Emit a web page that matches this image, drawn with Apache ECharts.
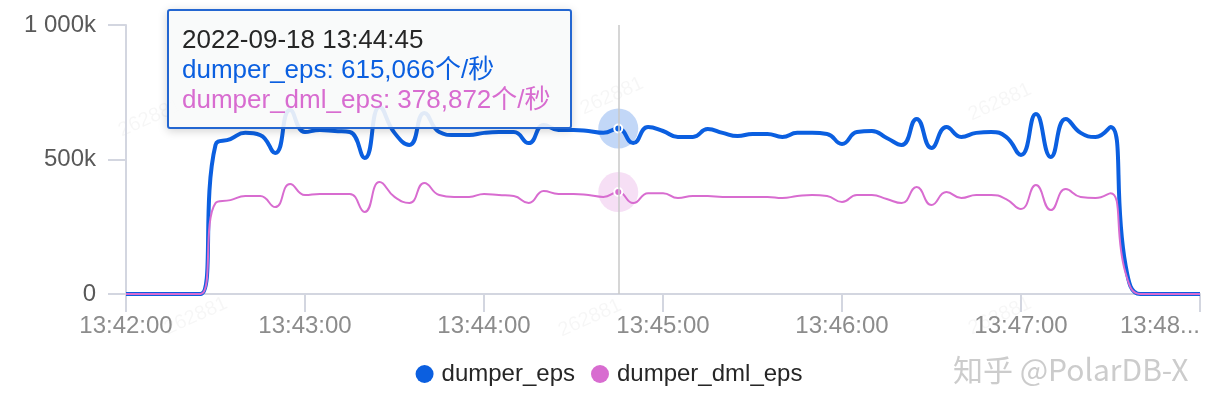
<!DOCTYPE html>
<html><head><meta charset="utf-8">
<script src="https://cdn.jsdelivr.net/npm/echarts@6/dist/echarts.min.js"></script>
<style>html,body{margin:0;padding:0;background:#fff}#c{width:1218px;height:414px}</style>
</head><body><div id="c"></div>
<script>
const categories = [
'2022-09-18 13:42:00','2022-09-18 13:42:05','2022-09-18 13:42:10','2022-09-18 13:42:15','2022-09-18 13:42:20','2022-09-18 13:42:25',
'2022-09-18 13:42:30','2022-09-18 13:42:35','2022-09-18 13:42:40','2022-09-18 13:42:45','2022-09-18 13:42:50','2022-09-18 13:42:55',
'2022-09-18 13:43:00','2022-09-18 13:43:05','2022-09-18 13:43:10','2022-09-18 13:43:15','2022-09-18 13:43:20','2022-09-18 13:43:25',
'2022-09-18 13:43:30','2022-09-18 13:43:35','2022-09-18 13:43:40','2022-09-18 13:43:45','2022-09-18 13:43:50','2022-09-18 13:43:55',
'2022-09-18 13:44:00','2022-09-18 13:44:05','2022-09-18 13:44:10','2022-09-18 13:44:15','2022-09-18 13:44:20','2022-09-18 13:44:25',
'2022-09-18 13:44:30','2022-09-18 13:44:35','2022-09-18 13:44:40','2022-09-18 13:44:45','2022-09-18 13:44:50','2022-09-18 13:44:55',
'2022-09-18 13:45:00','2022-09-18 13:45:05','2022-09-18 13:45:10','2022-09-18 13:45:15','2022-09-18 13:45:20','2022-09-18 13:45:25',
'2022-09-18 13:45:30','2022-09-18 13:45:35','2022-09-18 13:45:40','2022-09-18 13:45:45','2022-09-18 13:45:50','2022-09-18 13:45:55',
'2022-09-18 13:46:00','2022-09-18 13:46:05','2022-09-18 13:46:10','2022-09-18 13:46:15','2022-09-18 13:46:20','2022-09-18 13:46:25',
'2022-09-18 13:46:30','2022-09-18 13:46:35','2022-09-18 13:46:40','2022-09-18 13:46:45','2022-09-18 13:46:50','2022-09-18 13:46:55',
'2022-09-18 13:47:00','2022-09-18 13:47:05','2022-09-18 13:47:10','2022-09-18 13:47:15','2022-09-18 13:47:20','2022-09-18 13:47:25',
'2022-09-18 13:47:30','2022-09-18 13:47:35','2022-09-18 13:47:40','2022-09-18 13:47:45','2022-09-18 13:47:50','2022-09-18 13:47:55',
'2022-09-18 13:48:00'
];
const dumperEps = [
0,0,0,0,0,0,
554000,576000,599000,591000,524000,684000,
602000,610000,606000,602000,506000,695000,
599000,554000,673000,602000,591000,591000,
599000,602000,602000,561000,628000,610000,
610000,606000,599000,615066,561000,621000,
606000,584000,584000,613000,599000,587000,
595000,595000,584000,599000,599000,595000,
558000,602000,606000,580000,554000,651000,
543000,621000,584000,599000,602000,584000,
517000,669000,509000,651000,599000,584000,
621000,110000,0,0,0,0,
0
];
const dumperDmlEps = [
0,0,0,0,0,0,
338000,349000,364000,364000,323000,409000,
368000,372000,372000,372000,305000,416000,
361000,338000,413000,368000,361000,361000,
372000,368000,364000,338000,383000,372000,
372000,368000,361000,378872,338000,375000,
375000,357000,364000,364000,361000,361000,
361000,361000,357000,364000,368000,364000,
342000,368000,368000,353000,338000,398000,
331000,379000,357000,368000,368000,353000,
316000,405000,312000,390000,361000,357000,
375000,80000,0,0,0,0,
0
];
const seriesNames = ['dumper_eps', 'dumper_dml_eps'];
const seriesColors = ['#0b5fe0', '#d86cd0'];
const haloColors = ['rgba(11,95,224,0.25)', 'rgba(216,108,208,0.22)'];
const yTickValues = [0, 500000, 1000000];
const yTickLabels = ['0', '500k', '1 000k'];
const unitText = '个/秒';
const hoverIndex = 33;
const watermarkText = '262881';
const brandText = '知乎 @PolarDB-X';

const FONT = '"Liberation Sans", Arial, "Noto Sans CJK SC", sans-serif';
const chart = echarts.init(document.getElementById('c'), null, {renderer: 'canvas'});

function fmt(n) { return Number(n).toLocaleString('en-US'); }

function markFor(vals, i) {
  return {
    silent: true,
    animation: false,
    label: {show: false},
    data: [
      {coord: [categories[hoverIndex], vals[hoverIndex]], symbol: 'circle', symbolSize: 40,
       itemStyle: {color: haloColors[i]}},
      {coord: [categories[hoverIndex], vals[hoverIndex]], symbol: 'circle', symbolSize: 8,
       itemStyle: {color: seriesColors[i], borderColor: '#ffffff', borderWidth: 2}}
    ]
  };
}

const wmPos = [[150, 118], [612, 96], [1000, 102], [196, 316], [590, 318], [1000, 316]];
const graphics = wmPos.map(p => ({
  type: 'text', x: p[0], y: p[1], rotation: 0.42, z: 0, silent: true,
  style: {text: watermarkText, font: '20px ' + FONT, fill: 'rgba(0,0,0,0.035)', align: 'center', verticalAlign: 'middle'}
}));
graphics.push({
  type: 'text', x: 953, y: 370, z: 0, silent: true,
  style: {text: brandText, font: '30px "Noto Sans CJK SC", "Liberation Sans", sans-serif', fill: '#cccccc',
          verticalAlign: 'middle', textShadowColor: 'rgba(0,0,0,0.25)', textShadowOffsetX: 1, textShadowOffsetY: 1}
});

const option = {
  animation: false,
  backgroundColor: '#ffffff',
  grid: {left: 126, right: 18, top: 25, bottom: 120, containLabel: false},
  legend: {
    data: seriesNames, left: 'center', top: 357, icon: 'circle',
    itemWidth: 24, itemHeight: 18, itemGap: 16, selectedMode: false,
    textStyle: {fontFamily: FONT, fontSize: 24, color: '#262626'}
  },
  tooltip: {
    trigger: 'axis', triggerOn: 'none', alwaysShowContent: true,
    position: [167, 9], transitionDuration: 0, confine: false,
    backgroundColor: 'rgba(248,249,250,0.9)', borderColor: '#2366d1', borderWidth: 2,
    padding: [13, 13],
    extraCssText: 'box-shadow:0 2px 10px rgba(0,0,0,0.18);border-radius:3px;width:375px;',
    textStyle: {fontFamily: FONT, fontSize: 26, color: '#262626'},
    axisPointer: {type: 'line', animation: false, lineStyle: {color: '#c8c8c8', width: 1.5, type: 'solid'}},
    formatter: function (params) {
      let html = '<div style="line-height:30px;white-space:nowrap;color:#262626">' + params[0].name + '</div>';
      params.forEach(p => {
        html += '<div style="line-height:30px;white-space:nowrap;color:' + seriesColors[p.seriesIndex] + '">' +
          p.seriesName + ': ' + fmt(p.value) + unitText + '</div>';
      });
      return html;
    }
  },
  xAxis: {
    type: 'category', data: categories, boundaryGap: false,
    axisLine: {show: true, lineStyle: {color: '#d3d6e0', width: 2}},
    axisTick: {show: true, interval: 11, length: 18, lineStyle: {color: '#d3d6e0', width: 2}},
    axisLabel: {
      interval: 11, margin: 20, color: '#8c8c8c', fontFamily: FONT, fontSize: 24,
      alignMaxLabel: 'right',
      formatter: function (v, i) {
        const t = v.split(' ')[1];
        return i === categories.length - 1 ? t.slice(0, 5) + '...' : t;
      }
    },
    splitLine: {show: false}
  },
  yAxis: {
    type: 'value', min: 0, max: 1000000, interval: 500000,
    axisLine: {show: true, lineStyle: {color: '#d3d6e0', width: 2}},
    axisTick: {show: true, length: 18, lineStyle: {color: '#d3d6e0', width: 2}},
    axisLabel: {
      margin: 30, color: '#595959', fontFamily: FONT, fontSize: 24,
      formatter: function (v) { const k = yTickValues.indexOf(v); return k >= 0 ? yTickLabels[k] : ''; }
    },
    splitLine: {show: false}
  },
  graphic: graphics,
  series: [
    {
      name: seriesNames[0], type: 'line', data: dumperEps, smooth: 0.5, symbol: 'none',
      color: seriesColors[0], lineStyle: {width: 4, color: seriesColors[0]},
      emphasis: {disabled: true}, markPoint: markFor(dumperEps, 0), z: 2
    },
    {
      name: seriesNames[1], type: 'line', data: dumperDmlEps, smooth: 0.5, symbol: 'none',
      color: seriesColors[1], lineStyle: {width: 2, color: seriesColors[1]},
      emphasis: {disabled: true}, markPoint: markFor(dumperDmlEps, 1), z: 3
    }
  ]
};
chart.setOption(option);
function showTip() { chart.dispatchAction({type: 'showTip', seriesIndex: 0, dataIndex: hoverIndex}); }
showTip();
setTimeout(showTip, 0);
</script></body></html>
